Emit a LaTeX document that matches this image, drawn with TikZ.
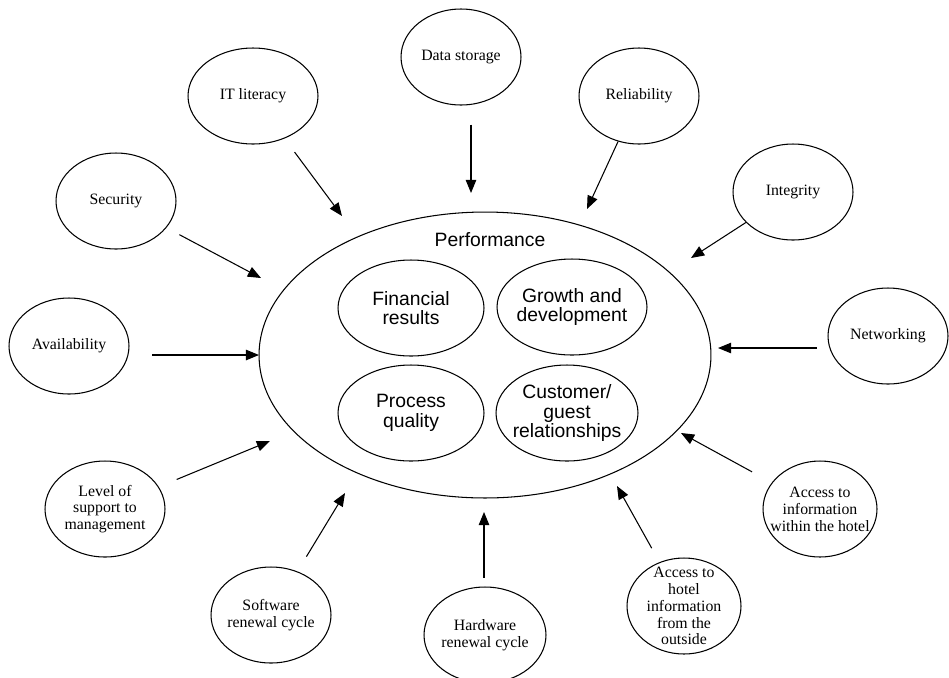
\documentclass[tikz,border=0pt]{standalone}
\usepackage{fontspec}
\setmainfont{Liberation Serif}
\setsansfont{Liberation Sans}
\usetikzlibrary{arrows.meta,%
                shapes.geometric}

\begin{document}
\begin{tikzpicture}[x=0.02cm,y=-0.02cm,line width=0.6pt,
    >={Triangle[length=7.5pt,width=6pt]}]
  \tikzstyle{factor}=[ellipse,draw,minimum width=2.4cm,minimum height=1.92cm,inner sep=0pt]
  \tikzstyle{ftext}=[font=\fontsize{9}{9.6}\selectfont,align=center]
  \tikzstyle{facet}=[ellipse,draw,minimum height=1.92cm,inner sep=0pt]
  \tikzstyle{ptext}=[font=\sffamily\fontsize{11}{11}\selectfont,align=center]
  \useasboundingbox (0,0) rectangle (949,677);
  % performance and its four parts
  \node[ellipse,draw,minimum width=9.04cm,minimum height=5.72cm] (perf) at (485,355) {};
  \node[ptext] (perftitle) at (490,240) {Performance};
  \node[facet,minimum width=2.92cm,label={[ptext]center:Financial\\results}] (fin) at (411,308) {};
  \node[facet,minimum width=3.0cm,label={[ptext]center:Growth and\\development}] (grow) at (572,307) {};
  \node[facet,minimum width=2.92cm,label={[ptext]center:Process\\quality}] (proc) at (411,413) {};
  \node[facet,minimum width=2.84cm,label={[ptext]center:Customer/\\guest\\relationships}] (cust) at (567,413) {};
  % IT factors
  \node[factor,minimum width=2.6cm,label={[ftext]center:IT literacy}] (itlit) at (253,96) {};
  \node[factor,label={[ftext]center:Data storage}] (datast) at (461,57) {};
  \node[factor,label={[ftext]center:Reliability}] (rel) at (639,96) {};
  \node[factor,label={[ftext]center:Integrity}] (integ) at (793,192) {};
  \node[factor,label={[ftext]center:Security}] (sec) at (116,201) {};
  \node[factor,label={[ftext]center:Availability}] (avail) at (69,346) {};
  \node[factor,label={[ftext]center:Networking}] (net) at (888,336) {};
  \node[factor,label={[ftext]center:Level of\\support to\\management}] (supp) at (105,509) {};
  \node[factor,label={[ftext]center:Software\\renewal cycle}] (soft) at (271,615) {};
  \node[factor,minimum width=2.44cm,label={[ftext]center:Hardware\\renewal cycle}] (hard) at (485,635) {};
  \node[factor,minimum width=2.28cm,label={[ftext]center:Access to\\hotel\\information\\from the\\outside}] (outs) at (684,606) {};
  \node[factor,minimum width=2.28cm,label={[ftext]center:Access to\\information\\within the hotel}] (within) at (820,509) {};
  % arrow tips
  \coordinate (t-it) at (342,216);
  \coordinate (t-ds) at (471,193);
  \coordinate (t-rel) at (587,209);
  \coordinate (t-int) at (691,258);
  \coordinate (t-sec) at (261,278);
  \coordinate (t-av) at (259,355);
  \coordinate (t-net) at (718,348);
  \coordinate (t-sup) at (270,441);
  \coordinate (t-sw) at (345,493);
  \coordinate (t-hw) at (484,512);
  \coordinate (t-out) at (617,486);
  \coordinate (t-in) at (681,433);
  \draw[->,shorten <=9.6pt] (itlit) -- (t-it);
  \draw[->,shorten <=10.8pt] (t-ds |- datast.south) -- (t-ds);
  \draw[->] (rel) -- (t-rel);
  \draw[->] (integ) -- (t-int);
  \draw[->,shorten <=8.3pt] (sec) -- (t-sec);
  \draw[->,shorten <=13pt] (avail.east |- t-av) -- (t-av);
  \draw[->,shorten <=6.2pt] (net.west |- t-net) -- (t-net);
  \draw[->,shorten <=11pt] (supp) -- (t-sup);
  \draw[->,shorten <=9.8pt] (soft) -- (t-sw);
  \draw[->,shorten <=5.1pt] (t-hw |- hard.north) -- (t-hw);
  \draw[->,shorten <=9.1pt] (outs) -- (t-out);
  \draw[->,shorten <=12.8pt] (within) -- (t-in);
\end{tikzpicture}
\end{document}
